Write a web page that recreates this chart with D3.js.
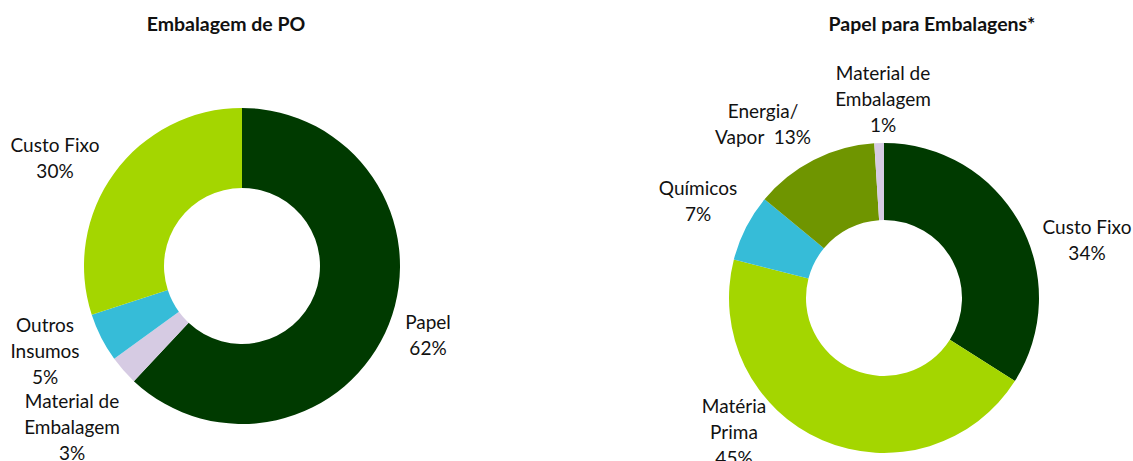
<!DOCTYPE html>
<html><head><meta charset="utf-8">
<script src="https://cdn.jsdelivr.net/npm/d3@7"></script>
<style>body{margin:0;background:#fff}text{font-family:Lato,"Open Sans",sans-serif;fill:#111}</style>
</head><body><svg id="c" width="1133" height="461"></svg>
<script>
// Data
const leftTitle = "Embalagem de PO";
const leftCategories = ["Papel", "Material de Embalagem", "Outros Insumos", "Custo Fixo"];
const leftValues = [62, 3, 5, 30];
const rightTitle = "Papel para Embalagens*";
const rightCategories = ["Custo Fixo", "Matéria Prima", "Químicos", "Energia/ Vapor", "Material de Embalagem"];
const rightValues = [34, 45, 7, 13, 1];

// Styling / layout (kept separate from data)
const colorMap = {
  "Papel": "#003a00", "Custo Fixo": "#a4d600", "Outros Insumos": "#36bcd8",
  "Material de Embalagem": "#d6cbe3", "Matéria Prima": "#a4d600", "Químicos": "#36bcd8",
  "Energia/ Vapor": "#6f9500"
};
const rightColorMap = Object.assign({}, colorMap, {"Custo Fixo": "#003a00"});

const leftLabelLines = {
  "Papel": ["Papel"], "Material de Embalagem": ["Material de", "Embalagem"],
  "Outros Insumos": ["Outros", "Insumos"], "Custo Fixo": ["Custo Fixo"]
};
const leftLabelPos = {
  "Papel": [428, 329], "Material de Embalagem": [72, 408], "Outros Insumos": [45, 332], "Custo Fixo": [55, 152]
};
const rightLabelLines = {
  "Custo Fixo": ["Custo Fixo"], "Matéria Prima": ["Matéria", "Prima"], "Químicos": ["Químicos"],
  "Energia/ Vapor": ["Energia/", "Vapor"], "Material de Embalagem": ["Material de", "Embalagem"]
};
const rightLabelPos = {
  "Custo Fixo": [1087, 234], "Matéria Prima": [734, 413], "Químicos": [698, 195],
  "Energia/ Vapor": [763, 118], "Material de Embalagem": [883, 80]
};

const svg = d3.select("#c");

function donut(cfg) {
  const data = cfg.categories.map((c, i) => ({cat: c, value: cfg.values[i]}));
  const pie = d3.pie().value(d => d.value).sort(null);
  const arc = d3.arc().innerRadius(cfg.ri).outerRadius(cfg.ro);
  const g = svg.append("g").attr("transform", `translate(${cfg.cx},${cfg.cy})`);
  g.selectAll("path").data(pie(data)).join("path")
    .attr("d", arc).attr("fill", d => cfg.colors[d.data.cat]);
  svg.append("text").attr("x", cfg.tx).attr("y", 31).attr("text-anchor", "middle")
    .style("font-weight", "bold").style("font-size", "19.5px").text(cfg.title);
  data.forEach(d => {
    const [x, y] = cfg.labelPos[d.cat];
    const lines = cfg.labelLines[d.cat].slice();
    if (d.cat === "Energia/ Vapor") lines[lines.length - 1] += "  " + d.value + "%";
    else lines.push(d.value + "%");
    const t = svg.append("text").attr("text-anchor", "middle").style("font-size", "19px")
      .style("white-space", "pre").attr("xml:space", "preserve");
    lines.forEach((l, i) => t.append("tspan").attr("x", x).attr("y", y + i * 26).text(l));
  });
}

donut({categories: leftCategories, values: leftValues, cx: 242, cy: 266, ri: 78, ro: 158,
  colors: colorMap, title: leftTitle, tx: 226, labelPos: leftLabelPos, labelLines: leftLabelLines});
donut({categories: rightCategories, values: rightValues, cx: 884, cy: 298, ri: 78, ro: 155,
  colors: rightColorMap, title: rightTitle, tx: 932, labelPos: rightLabelPos, labelLines: rightLabelLines});
</script></body></html>
